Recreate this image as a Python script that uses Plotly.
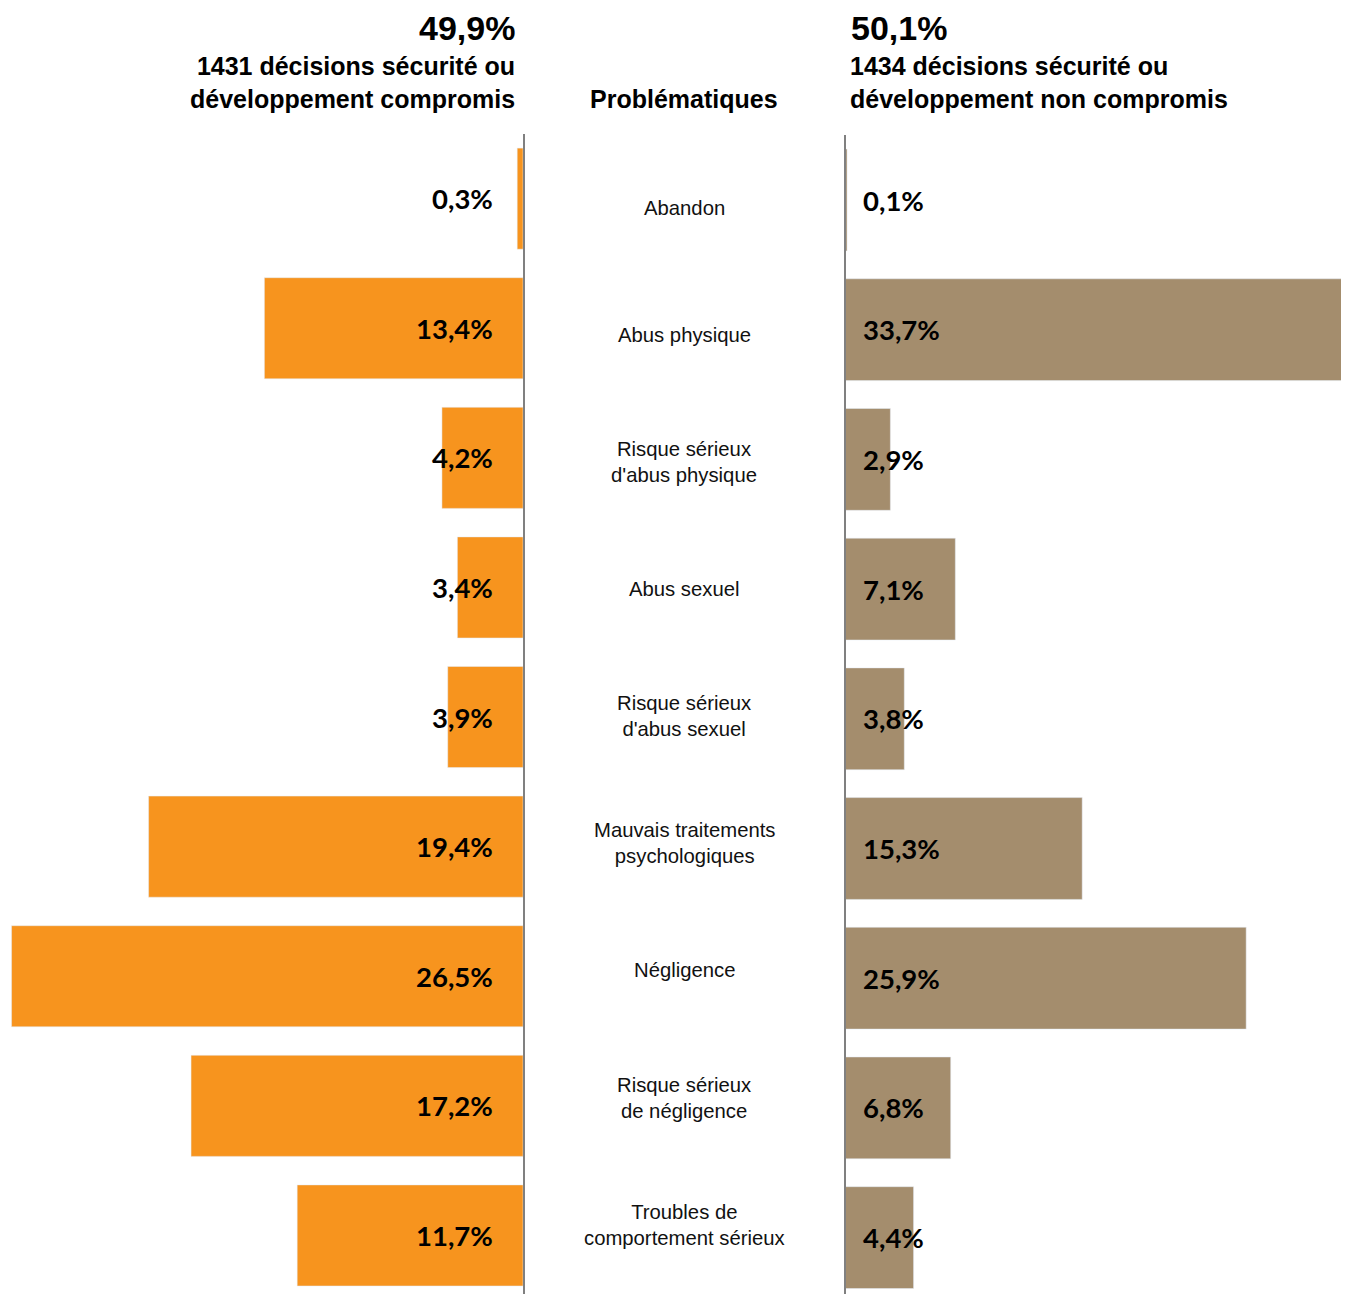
import plotly.graph_objects as go

categories = ["Abandon", "Abus physique", "Risque sérieux<br>d'abus physique", "Abus sexuel",
              "Risque sérieux<br>d'abus sexuel", "Mauvais traitements<br>psychologiques",
              "Négligence", "Risque sérieux<br>de négligence", "Troubles de<br>comportement sérieux"]
compromis = [0.3, 13.4, 4.2, 3.4, 3.9, 19.4, 26.5, 17.2, 11.7]
non_compromis = [0.1, 33.7, 2.9, 7.1, 3.8, 15.3, 25.9, 6.8, 4.4]
head_left = ["49,9%", "1431 décisions sécurité ou<br>développement compromis"]
head_right = ["50,1%", "1434 décisions sécurité ou<br>développement non compromis"]
head_mid = "Problématiques"

# page is rendered with an 8px body margin: figure is sized/positioned to compensate
OFF = 8
W, H = 1349 - OFF, 1294 - OFF
def px(x):
    return (x - OFF) / W
def py(y):
    return 1 - (y - OFF) / H

ORANGE = "#F7941E"
TAN = "#A48D6D"
AXIS = "#808080"
idx = list(range(len(categories)))

def fmt(v):
    return f"{v:.1f}".replace(".", ",") + "%"

def yrange(top_px, c0_px, pitch, bottom_px=1294):
    return [(bottom_px - c0_px) / pitch, -(c0_px - top_px) / pitch]

fig = go.Figure()
fig.add_trace(go.Bar(y=idx, x=compromis, orientation="h", marker_color=ORANGE,
                     width=0.78, xaxis="x", yaxis="y", hoverinfo="skip"))
fig.add_trace(go.Bar(y=idx, x=non_compromis, orientation="h", marker_color=TAN,
                     width=0.785, xaxis="x2", yaxis="y2", hoverinfo="skip"))
fig.add_trace(go.Scatter(x=[0] * len(categories), y=idx, mode="markers",
                         marker=dict(size=1, opacity=0),
                         xaxis="x3", yaxis="y3", hoverinfo="skip"))

ann = []
for i, c in enumerate(categories):
    ann.append(dict(x=0, y=i, xref="x3", yref="y3", text=c, showarrow=False,
                    xanchor="center", yanchor="middle", align="center",
                    font=dict(family="Liberation Sans, Arial", size=20.3, color="#111")))
for i, v in enumerate(compromis):
    ann.append(dict(x=0, y=i, xref="x", yref="y", text=f"<b>{fmt(v)}</b>", showarrow=False,
                    xanchor="right", yanchor="middle", xshift=-28,
                    font=dict(family="Lato", size=27.5, color="#000")))
for i, v in enumerate(non_compromis):
    ann.append(dict(x=0, y=i, xref="x2", yref="y2", text=f"<b>{fmt(v)}</b>", showarrow=False,
                    xanchor="left", yanchor="middle", xshift=15,
                    font=dict(family="Lato", size=27.5, color="#000")))

HF = "Liberation Sans, Arial"
def bold_lines(s):
    return "<br>".join(f"<b>{p}</b>" for p in s.split("<br>"))

ann += [
    dict(x=px(517), y=py(28), xref="paper", yref="paper", text=f"<b>{head_left[0]}</b>",
         showarrow=False, xanchor="right", yanchor="middle", font=dict(family=HF, size=34, color="#000")),
    dict(x=px(517), y=py(83), xref="paper", yref="paper", text=bold_lines(head_left[1]),
         showarrow=False, xanchor="right", yanchor="middle", align="right",
         font=dict(family=HF, size=25, color="#000")),
    dict(x=px(849), y=py(28), xref="paper", yref="paper", text=f"<b>{head_right[0]}</b>",
         showarrow=False, xanchor="left", yanchor="middle", font=dict(family=HF, size=34, color="#000")),
    dict(x=px(848), y=py(83), xref="paper", yref="paper", text=bold_lines(head_right[1]),
         showarrow=False, xanchor="left", yanchor="middle", align="left",
         font=dict(family=HF, size=25, color="#000")),
    dict(x=px(684), y=py(99), xref="paper", yref="paper", text=f"<b>{head_mid}</b>",
         showarrow=False, xanchor="center", yanchor="middle", font=dict(family=HF, size=25, color="#000")),
]

fig.update_layout(
    width=W, height=H, margin=dict(l=0, r=0, t=0, b=0),
    paper_bgcolor="white", plot_bgcolor="rgba(0,0,0,0)", showlegend=False,
    xaxis=dict(domain=[0, px(523)], range=[(523 - OFF) / 19.3, 0], visible=False, fixedrange=True),
    yaxis=dict(domain=[0, py(134)], range=yrange(134, 198.65, 129.6), anchor="x", side="right",
               showline=True, linecolor=AXIS, linewidth=2, showticklabels=False, ticks="",
               showgrid=False, zeroline=False, fixedrange=True),
    xaxis2=dict(domain=[px(845.5), 1], range=[0, (1349 - 845.5) / 15.47], visible=False, fixedrange=True),
    yaxis2=dict(domain=[0, py(135)], range=yrange(135, 200, 129.7), anchor="x2", side="left",
                showline=True, linecolor=AXIS, linewidth=2, showticklabels=False, ticks="",
                showgrid=False, zeroline=False, fixedrange=True),
    xaxis3=dict(domain=[px(524), px(844)], range=[-1, 1], visible=False, fixedrange=True, anchor="y3"),
    yaxis3=dict(domain=[0, 1], range=yrange(OFF, 208, 127.08), visible=False, fixedrange=True, anchor="x3"),
    annotations=ann,
)

fig.write_html("out.html")
